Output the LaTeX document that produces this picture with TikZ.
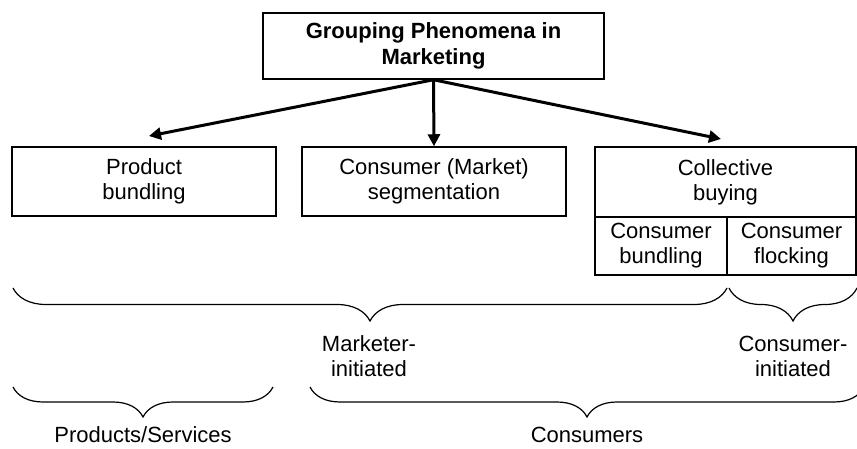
\documentclass[tikz,border=0pt]{standalone}
\usepackage{fontspec}
\setmainfont{Liberation Sans}
\usepackage{tikz}
\usetikzlibrary{arrows.meta}
\usetikzlibrary{decorations.pathreplacing}

\begin{document}
\begin{tikzpicture}[x=0.5pt,y=-0.5pt,
  box/.style={draw,line width=0.75pt,inner sep=0pt,align=center,font=\fontsize{11}{12.5}\selectfont},
  txt/.style={inner sep=0pt,align=center,font=\fontsize{11}{12.5}\selectfont},
  arr/.style={-{Triangle[length=6pt,width=6pt]},line width=1.5pt},
  brc/.style={decorate,decoration={brace,mirror,amplitude=#1},line width=0.6pt}]
\useasboundingbox (0,0) rectangle (857,449);
\node [box,minimum width=170.5pt,minimum height=33pt,font=\fontsize{11}{13}\selectfont\bfseries] (top) at (433.5,46) {Grouping Phenomena in\\Marketing};
\node [box,minimum width=132pt,minimum height=34.5pt] (prod) at (144,181.5) {Product\\bundling};
\node [box,minimum width=132pt,minimum height=34.5pt] (seg) at (434,181.5) {Consumer (Market)\\segmentation};
\node [box,minimum width=130.5pt,minimum height=35pt] (coll) at (725.5,182) {Collective\\buying};
\node [box,minimum width=66pt,minimum height=29pt] (cbund) at (661,246) {Consumer\\bundling};
\node [box,minimum width=64.5pt,minimum height=29pt] (cflock) at (791.5,246) {Consumer\\flocking};
\coordinate (prodin) at (149,136);
\coordinate (collin) at (721,139);
\draw [arr] (top.south) -- (prodin);
\draw [arr] (top.south) -- (seg.north);
\draw [arr] (top.south) -- (collin);
\coordinate (mk-a) at (13,288);
\coordinate (mk-b) at (727,288);
\coordinate (ci-a) at (729,288);
\coordinate (ci-b) at (857,288);
\coordinate (ps-a) at (13,387);
\coordinate (ps-b) at (273,387);
\coordinate (cs-a) at (310,387);
\coordinate (cs-b) at (864,387);
\draw [brc=16.5pt] (mk-a) -- (mk-b);
\draw [brc=16.5pt] (ci-a) -- (ci-b);
\draw [brc=15pt] (ps-a) -- (ps-b);
\draw [brc=15pt] (cs-a) -- (cs-b);
\node [txt] (mkt) at (369,356) {Marketer-\\initiated};
\node [txt] (cit) at (793,356) {Consumer-\\initiated};
\node [txt,anchor=base] (ps) at (143,442) {Products/Services};
\node [txt,anchor=base] (cons) at (587,442) {Consumers};
\end{tikzpicture}
\end{document}
